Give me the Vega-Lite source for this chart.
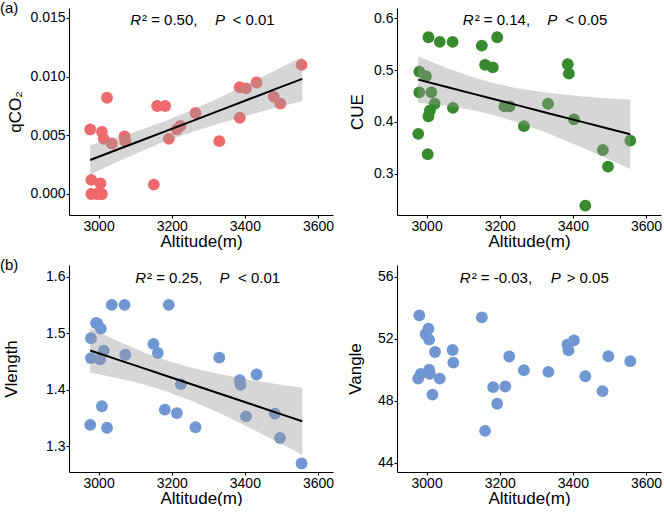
{
 "$schema": "https://vega.github.io/schema/vega-lite/v6.json",
 "padding": {"left": 0, "top": 1, "right": 0, "bottom": 0},
 "config": {
  "font": "Liberation Sans",
  "view": {"stroke": null},
  "axis": {"grid": false, "domainColor": "#000000", "domainWidth": 1.1, "tickColor": "#000000", "tickWidth": 1.1, "tickSize": 3, "labelColor": "#000000", "labelFontSize": 14, "labelPadding": 1, "titleColor": "#000000", "titleFontSize": 17, "titleFontWeight": "normal", "labelFont": "Liberation Sans", "titleFont": "Liberation Sans"},
  "axisX": {"titlePadding": 0},
  "title": {"font": "Liberation Sans", "fontSize": 15, "fontWeight": "normal", "color": "#000000"},
  "text": {"font": "Liberation Sans", "fontSize": 15, "color": "#000000", "baseline": "alphabetic"}
 },
 "datasets": {
  "pa": [
   {"alt": 2977, "v": 0.0055}, {"alt": 2980, "v": 0.0012}, {"alt": 2980, "v": 0.0}, {"alt": 2995, "v": 0.0},
   {"alt": 3005, "v": 0.0009}, {"alt": 3005, "v": 0.0}, {"alt": 3009, "v": 0.0053}, {"alt": 3014, "v": 0.0047},
   {"alt": 3009, "v": 0.0}, {"alt": 3023, "v": 0.0082}, {"alt": 3036, "v": 0.0043}, {"alt": 3071, "v": 0.0049},
   {"alt": 3073, "v": 0.0045}, {"alt": 3151, "v": 0.0008}, {"alt": 3160, "v": 0.0075}, {"alt": 3182, "v": 0.0075},
   {"alt": 3192, "v": 0.0047}, {"alt": 3214, "v": 0.0055}, {"alt": 3224, "v": 0.0058}, {"alt": 3265, "v": 0.0069},
   {"alt": 3330, "v": 0.0045}, {"alt": 3386, "v": 0.0065}, {"alt": 3386, "v": 0.0091}, {"alt": 3403, "v": 0.009},
   {"alt": 3432, "v": 0.0095}, {"alt": 3479, "v": 0.0083}, {"alt": 3497, "v": 0.0077}, {"alt": 3555, "v": 0.011}
  ],
  "ba": [
   {"alt": 2977, "lo": 0.00165, "fit": 0.00290, "hi": 0.00416},
   {"alt": 3050, "lo": 0.00272, "fit": 0.00377, "hi": 0.00482},
   {"alt": 3120, "lo": 0.00369, "fit": 0.00460, "hi": 0.00551},
   {"alt": 3180, "lo": 0.00445, "fit": 0.00532, "hi": 0.00619},
   {"alt": 3250, "lo": 0.00522, "fit": 0.00615, "hi": 0.00708},
   {"alt": 3330, "lo": 0.00601, "fit": 0.00711, "hi": 0.00821},
   {"alt": 3420, "lo": 0.00680, "fit": 0.00818, "hi": 0.00956},
   {"alt": 3490, "lo": 0.00739, "fit": 0.00902, "hi": 0.01065},
   {"alt": 3557, "lo": 0.00792, "fit": 0.00981, "hi": 0.01170}
  ],
  "pb": [
   {"alt": 2980, "v": 0.497}, {"alt": 2980, "v": 0.457}, {"alt": 2977, "v": 0.377}, {"alt": 2998, "v": 0.488},
   {"alt": 3003, "v": 0.338}, {"alt": 3005, "v": 0.563}, {"alt": 3005, "v": 0.411}, {"alt": 3009, "v": 0.422},
   {"alt": 3013, "v": 0.457}, {"alt": 3022, "v": 0.435}, {"alt": 3036, "v": 0.554}, {"alt": 3071, "v": 0.554},
   {"alt": 3072, "v": 0.427}, {"alt": 3151, "v": 0.547}, {"alt": 3160, "v": 0.510}, {"alt": 3181, "v": 0.505},
   {"alt": 3193, "v": 0.563}, {"alt": 3213, "v": 0.430}, {"alt": 3227, "v": 0.430}, {"alt": 3266, "v": 0.392},
   {"alt": 3332, "v": 0.435}, {"alt": 3386, "v": 0.511}, {"alt": 3389, "v": 0.493}, {"alt": 3403, "v": 0.405},
   {"alt": 3434, "v": 0.239}, {"alt": 3482, "v": 0.346}, {"alt": 3496, "v": 0.314}, {"alt": 3557, "v": 0.364}
  ],
  "bb": [
   {"alt": 2977, "lo": 0.4372, "fit": 0.4815, "hi": 0.5258},
   {"alt": 3050, "lo": 0.4313, "fit": 0.4682, "hi": 0.5051},
   {"alt": 3120, "lo": 0.4233, "fit": 0.4555, "hi": 0.4877},
   {"alt": 3180, "lo": 0.4138, "fit": 0.4446, "hi": 0.4754},
   {"alt": 3250, "lo": 0.3992, "fit": 0.4319, "hi": 0.4646},
   {"alt": 3330, "lo": 0.3786, "fit": 0.4174, "hi": 0.4562},
   {"alt": 3420, "lo": 0.3525, "fit": 0.4011, "hi": 0.4497},
   {"alt": 3490, "lo": 0.3308, "fit": 0.3883, "hi": 0.4458},
   {"alt": 3557, "lo": 0.3096, "fit": 0.3762, "hi": 0.4428}
  ],
  "pc": [
   {"alt": 2979, "v": 1.491}, {"alt": 2979, "v": 1.456}, {"alt": 2977, "v": 1.338}, {"alt": 2993, "v": 1.518},
   {"alt": 2997, "v": 1.517}, {"alt": 3006, "v": 1.508}, {"alt": 3004, "v": 1.454}, {"alt": 3009, "v": 1.371},
   {"alt": 3014, "v": 1.469}, {"alt": 3023, "v": 1.333}, {"alt": 3036, "v": 1.550}, {"alt": 3071, "v": 1.550},
   {"alt": 3073, "v": 1.462}, {"alt": 3150, "v": 1.481}, {"alt": 3162, "v": 1.465}, {"alt": 3181, "v": 1.365},
   {"alt": 3192, "v": 1.550}, {"alt": 3214, "v": 1.359}, {"alt": 3225, "v": 1.410}, {"alt": 3265, "v": 1.334},
   {"alt": 3330, "v": 1.457}, {"alt": 3386, "v": 1.417}, {"alt": 3388, "v": 1.409}, {"alt": 3403, "v": 1.353},
   {"alt": 3432, "v": 1.427}, {"alt": 3482, "v": 1.358}, {"alt": 3496, "v": 1.315}, {"alt": 3555, "v": 1.270}
  ],
  "bc": [
   {"alt": 2977, "lo": 1.4302, "fit": 1.4695, "hi": 1.5088},
   {"alt": 3050, "lo": 1.4210, "fit": 1.4538, "hi": 1.4866},
   {"alt": 3120, "lo": 1.4101, "fit": 1.4387, "hi": 1.4673},
   {"alt": 3180, "lo": 1.3984, "fit": 1.4257, "hi": 1.4530},
   {"alt": 3250, "lo": 1.3816, "fit": 1.4106, "hi": 1.4396},
   {"alt": 3330, "lo": 1.3590, "fit": 1.3934, "hi": 1.4278},
   {"alt": 3420, "lo": 1.3309, "fit": 1.3740, "hi": 1.4171},
   {"alt": 3490, "lo": 1.3079, "fit": 1.3589, "hi": 1.4099},
   {"alt": 3557, "lo": 1.2854, "fit": 1.3445, "hi": 1.4036}
  ],
  "pd": [
   {"alt": 2980, "v": 53.50}, {"alt": 2977, "v": 49.43}, {"alt": 2984, "v": 49.73}, {"alt": 2997, "v": 52.30},
   {"alt": 3005, "v": 52.64}, {"alt": 3007, "v": 51.94}, {"alt": 3007, "v": 50.01}, {"alt": 3009, "v": 49.73},
   {"alt": 3016, "v": 48.40}, {"alt": 3023, "v": 51.14}, {"alt": 3036, "v": 49.43}, {"alt": 3071, "v": 51.27},
   {"alt": 3073, "v": 50.46}, {"alt": 3151, "v": 53.37}, {"alt": 3160, "v": 46.07}, {"alt": 3182, "v": 48.88},
   {"alt": 3193, "v": 47.81}, {"alt": 3215, "v": 48.92}, {"alt": 3226, "v": 50.85}, {"alt": 3266, "v": 49.97},
   {"alt": 3333, "v": 49.86}, {"alt": 3385, "v": 51.61}, {"alt": 3388, "v": 51.25}, {"alt": 3403, "v": 51.89},
   {"alt": 3434, "v": 49.58}, {"alt": 3481, "v": 48.62}, {"alt": 3497, "v": 50.87}, {"alt": 3557, "v": 50.55}
  ]
 },
 "columns": 2,
 "spacing": {"row": 50, "column": 64},
 "bounds": "flush",
 "concat": [
  {
   "width": 264, "height": 207,
   "title": {"text": "(a)", "anchor": "start", "frame": "group", "dx": -69, "offset": -8},
   "layer": [
    {"data": {"name": "pa"}, "mark": {"type": "circle", "size": 140, "opacity": 1, "color": "#EE6A6C"},
     "encoding": {
      "x": {"field": "alt", "type": "quantitative", "scale": {"domain": [2919, 3641], "nice": false, "zero": false}, "axis": {"values": [3000, 3200, 3400, 3600], "format": "d", "title": "Altitude(m)"}},
      "y": {"field": "v", "type": "quantitative", "scale": {"domain": [-0.00179, 0.01585], "nice": false, "zero": false}, "axis": {"values": [0, 0.005, 0.01, 0.015], "format": ".3f", "title": "qCO₂", "titlePadding": 5}}}},
    {"data": {"name": "ba"}, "mark": {"type": "area", "color": "#999999", "opacity": 0.4},
     "encoding": {
      "x": {"field": "alt", "type": "quantitative", "scale": {"domain": [2919, 3641], "nice": false, "zero": false}, "axis": {"values": [3000, 3200, 3400, 3600], "format": "d", "title": "Altitude(m)"}},
      "y": {"field": "lo", "type": "quantitative", "scale": {"domain": [-0.00179, 0.01585], "nice": false, "zero": false}, "axis": {"values": [0, 0.005, 0.01, 0.015], "format": ".3f", "title": "qCO₂", "titlePadding": 5}},
      "y2": {"field": "hi"}}},
    {"data": {"name": "ba"}, "mark": {"type": "line", "color": "#000000", "strokeWidth": 2},
     "encoding": {
      "x": {"field": "alt", "type": "quantitative"},
      "y": {"field": "fit", "type": "quantitative"}}},
    {"data": {"values": [{}]}, "mark": {"type": "text", "text": "R", "fontStyle": "italic", "align": "right"},
     "encoding": {"x": {"datum": 3115.9, "type": "quantitative"}, "y": {"datum": 0.01438, "type": "quantitative"}}},
    {"data": {"values": [{}]}, "mark": {"type": "text", "text": "² = 0.50,", "align": "left", "dx": 1},
     "encoding": {"x": {"datum": 3115.9, "type": "quantitative"}, "y": {"datum": 0.01438, "type": "quantitative"}}},
    {"data": {"values": [{}]}, "mark": {"type": "text", "text": "P", "fontStyle": "italic", "align": "left", "dx": 74},
     "encoding": {"x": {"datum": 3115.9, "type": "quantitative"}, "y": {"datum": 0.01438, "type": "quantitative"}}},
    {"data": {"values": [{}]}, "mark": {"type": "text", "text": "< 0.01", "align": "left", "dx": 91.5},
     "encoding": {"x": {"datum": 3115.9, "type": "quantitative"}, "y": {"datum": 0.01438, "type": "quantitative"}}}
   ]
  },
  {
   "width": 264, "height": 207,
   "layer": [
    {"data": {"name": "pb"}, "mark": {"type": "circle", "size": 140, "opacity": 1, "color": "#378B2E"},
     "encoding": {
      "x": {"field": "alt", "type": "quantitative", "scale": {"domain": [2919, 3641], "nice": false, "zero": false}, "axis": {"values": [3000, 3200, 3400, 3600], "format": "d", "title": "Altitude(m)"}},
      "y": {"field": "v", "type": "quantitative", "scale": {"domain": [0.221, 0.6193], "nice": false, "zero": false}, "axis": {"values": [0.3, 0.4, 0.5, 0.6], "format": ".1f", "title": "CUE", "titlePadding": 7.4}}}},
    {"data": {"name": "bb"}, "mark": {"type": "area", "color": "#999999", "opacity": 0.4},
     "encoding": {
      "x": {"field": "alt", "type": "quantitative", "scale": {"domain": [2919, 3641], "nice": false, "zero": false}, "axis": {"values": [3000, 3200, 3400, 3600], "format": "d", "title": "Altitude(m)"}},
      "y": {"field": "lo", "type": "quantitative", "scale": {"domain": [0.221, 0.6193], "nice": false, "zero": false}, "axis": {"values": [0.3, 0.4, 0.5, 0.6], "format": ".1f", "title": "CUE", "titlePadding": 7.4}},
      "y2": {"field": "hi"}}},
    {"data": {"name": "bb"}, "mark": {"type": "line", "color": "#000000", "strokeWidth": 2},
     "encoding": {
      "x": {"field": "alt", "type": "quantitative"},
      "y": {"field": "fit", "type": "quantitative"}}},
    {"data": {"values": [{}]}, "mark": {"type": "text", "text": "R", "fontStyle": "italic", "align": "right"},
     "encoding": {"x": {"datum": 3128.7, "type": "quantitative"}, "y": {"datum": 0.5859, "type": "quantitative"}}},
    {"data": {"values": [{}]}, "mark": {"type": "text", "text": "² = 0.14,", "align": "left", "dx": 1},
     "encoding": {"x": {"datum": 3128.7, "type": "quantitative"}, "y": {"datum": 0.5859, "type": "quantitative"}}},
    {"data": {"values": [{}]}, "mark": {"type": "text", "text": "P", "fontStyle": "italic", "align": "left", "dx": 73.5},
     "encoding": {"x": {"datum": 3128.7, "type": "quantitative"}, "y": {"datum": 0.5859, "type": "quantitative"}}},
    {"data": {"values": [{}]}, "mark": {"type": "text", "text": "< 0.05", "align": "left", "dx": 91.5},
     "encoding": {"x": {"datum": 3128.7, "type": "quantitative"}, "y": {"datum": 0.5859, "type": "quantitative"}}}
   ]
  },
  {
   "width": 264, "height": 207,
   "title": {"text": "(b)", "anchor": "start", "frame": "group", "dx": -69, "offset": -8},
   "layer": [
    {"data": {"name": "pc"}, "mark": {"type": "circle", "size": 140, "opacity": 1, "color": "#7097D2"},
     "encoding": {
      "x": {"field": "alt", "type": "quantitative", "scale": {"domain": [2919, 3641], "nice": false, "zero": false}, "axis": {"values": [3000, 3200, 3400, 3600], "format": "d", "title": "Altitude(m)"}},
      "y": {"field": "v", "type": "quantitative", "scale": {"domain": [1.2549, 1.6204], "nice": false, "zero": false}, "axis": {"values": [1.3, 1.4, 1.5, 1.6], "format": ".1f", "title": "Vlength", "titlePadding": 24.7}}}},
    {"data": {"name": "bc"}, "mark": {"type": "area", "color": "#999999", "opacity": 0.4},
     "encoding": {
      "x": {"field": "alt", "type": "quantitative", "scale": {"domain": [2919, 3641], "nice": false, "zero": false}, "axis": {"values": [3000, 3200, 3400, 3600], "format": "d", "title": "Altitude(m)"}},
      "y": {"field": "lo", "type": "quantitative", "scale": {"domain": [1.2549, 1.6204], "nice": false, "zero": false}, "axis": {"values": [1.3, 1.4, 1.5, 1.6], "format": ".1f", "title": "Vlength", "titlePadding": 24.7}},
      "y2": {"field": "hi"}}},
    {"data": {"name": "bc"}, "mark": {"type": "line", "color": "#000000", "strokeWidth": 2},
     "encoding": {
      "x": {"field": "alt", "type": "quantitative"},
      "y": {"field": "fit", "type": "quantitative"}}},
    {"data": {"values": [{}]}, "mark": {"type": "text", "text": "R", "fontStyle": "italic", "align": "right"},
     "encoding": {"x": {"datum": 3129.6, "type": "quantitative"}, "y": {"datum": 1.5882, "type": "quantitative"}}},
    {"data": {"values": [{}]}, "mark": {"type": "text", "text": "² = 0.25,", "align": "left", "dx": 1},
     "encoding": {"x": {"datum": 3129.6, "type": "quantitative"}, "y": {"datum": 1.5882, "type": "quantitative"}}},
    {"data": {"values": [{}]}, "mark": {"type": "text", "text": "P", "fontStyle": "italic", "align": "left", "dx": 73.5},
     "encoding": {"x": {"datum": 3129.6, "type": "quantitative"}, "y": {"datum": 1.5882, "type": "quantitative"}}},
    {"data": {"values": [{}]}, "mark": {"type": "text", "text": "< 0.01", "align": "left", "dx": 92},
     "encoding": {"x": {"datum": 3129.6, "type": "quantitative"}, "y": {"datum": 1.5882, "type": "quantitative"}}}
   ]
  },
  {
   "width": 264, "height": 207,
   "layer": [
    {"data": {"name": "pd"}, "mark": {"type": "circle", "size": 140, "opacity": 1, "color": "#7097D2"},
     "encoding": {
      "x": {"field": "alt", "type": "quantitative", "scale": {"domain": [2919, 3641], "nice": false, "zero": false}, "axis": {"values": [3000, 3200, 3400, 3600], "format": "d", "title": "Altitude(m)"}},
      "y": {"field": "v", "type": "quantitative", "scale": {"domain": [43.42, 56.74], "nice": false, "zero": false}, "axis": {"values": [44, 48, 52, 56], "format": "d", "title": "Vangle", "titlePadding": 13.1}}}},
    {"data": {"values": [{}]}, "mark": {"type": "text", "text": "R", "fontStyle": "italic", "align": "right"},
     "encoding": {"x": {"datum": 3120.5, "type": "quantitative"}, "y": {"datum": 55.57, "type": "quantitative"}}},
    {"data": {"values": [{}]}, "mark": {"type": "text", "text": "² = -0.03,", "align": "left", "dx": 1},
     "encoding": {"x": {"datum": 3120.5, "type": "quantitative"}, "y": {"datum": 55.57, "type": "quantitative"}}},
    {"data": {"values": [{}]}, "mark": {"type": "text", "text": "P", "fontStyle": "italic", "align": "left", "dx": 80},
     "encoding": {"x": {"datum": 3120.5, "type": "quantitative"}, "y": {"datum": 55.57, "type": "quantitative"}}},
    {"data": {"values": [{}]}, "mark": {"type": "text", "text": "> 0.05", "align": "left", "dx": 96},
     "encoding": {"x": {"datum": 3120.5, "type": "quantitative"}, "y": {"datum": 55.57, "type": "quantitative"}}}
   ]
  }
 ]
}
